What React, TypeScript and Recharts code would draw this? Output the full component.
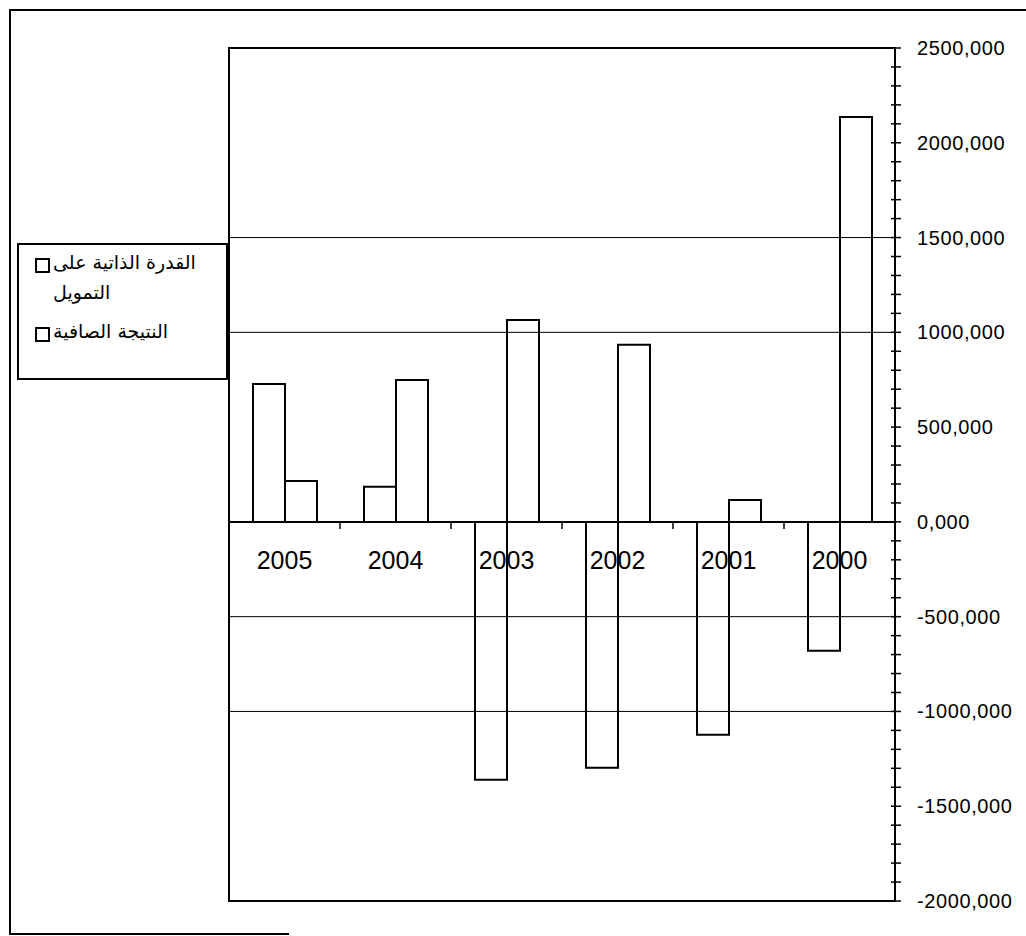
import { BarChart, Bar, XAxis, YAxis, ReferenceLine, ReferenceArea } from "recharts";

const years = ["2005", "2004", "2003", "2002", "2001", "2000"];
const selfFinancing = [728000, 185000, -1361000, -1297000, -1123000, -680000];
const netResult = [216000, 749000, 1065000, 934000, 116000, 2136000];
const seriesNames = ["القدرة الذاتية على التمويل", "النتيجة الصافية"];
const majorTicks = [-2000000, -1500000, -1000000, -500000, 0, 500000, 1000000, 1500000, 2000000, 2500000];
const gridValues = [1500000, 1000000, -500000, -1000000];

const data = years.map((year, i) => ({
  year,
  selfFinancing: selfFinancing[i],
  netResult: netResult[i],
}));

// minor ticks every 100,000 between the majors
const allTicks: number[] = [];
majorTicks.forEach((t, i) => {
  allTicks.push(t);
  if (i < majorTicks.length - 1) {
    for (let k = 1; k < 5; k++) allTicks.push(t + k * 100000);
  }
});

const fmt = (v: number) => `${v / 1000},000`;

const AxisTick = (props: any) => {
  const { x, y, payload } = props;
  const major = payload.value % 500000 === 0;
  return (
    <g>
      <line x1={x - 4} x2={x + 6} y1={y} y2={y} stroke="#000" strokeWidth={1.5} />
      {major && (
        <text x={x + 22} y={y} dy={7} textAnchor="start" fontSize={20} letterSpacing={0.6}
          fontFamily="Liberation Sans, Arial, sans-serif" fill="#000">
          {fmt(payload.value)}
        </text>
      )}
    </g>
  );
};

// category labels and ticks drawn along the zero line
const ZeroLineLabels = (props: any) => {
  const vb = props.viewBox || {};
  const x0 = vb.x;
  const y0 = vb.y;
  const step = vb.width / years.length;
  return (
    <g>
      {years.map((_, i) => (
        <line key={"t" + i} x1={x0 + i * step} x2={x0 + i * step} y1={y0} y2={y0 + 7} stroke="#000" strokeWidth={1.5} />
      ))}
      {years.map((yr, i) => (
        <text key={yr} x={x0 + (i + 0.5) * step} y={y0 + 47} textAnchor="middle" fontSize={25}
          fontFamily="Liberation Sans, Arial, sans-serif" fill="#000">
          {yr}
        </text>
      ))}
    </g>
  );
};

export default function App() {
  return (
    <div style={{ position: "absolute", left: 0, top: 0, width: 1026, height: 936, background: "#fff" }}>
      {/* outer frame */}
      <div style={{ position: "absolute", left: 9, top: 9, width: 1017, height: 0, borderTop: "2px solid #000" }} />
      <div style={{ position: "absolute", left: 9, top: 9, width: 0, height: 925, borderLeft: "2px solid #000" }} />
      <div style={{ position: "absolute", left: 9, top: 933, width: 280, height: 0, borderTop: "2px solid #000" }} />

      <div style={{ position: "absolute", left: 0, top: 0 }}>
        <BarChart width={1026} height={936} data={data} barGap={0}
          margin={{ top: 48, right: 11, left: 229, bottom: 35 }}>
          <XAxis dataKey="year" hide />
          <YAxis orientation="right" domain={[-2000000, 2500000]} ticks={allTicks} interval={0}
            allowDataOverflow width={120} tickSize={0} tickMargin={0} tickLine={false}
            axisLine={{ stroke: "#000", strokeWidth: 2 }} tick={<AxisTick />} />
          <ReferenceArea y1={-2000000} y2={2500000} fill="none" stroke="#000" strokeWidth={2} ifOverflow="visible" />
          {gridValues.map((g) => (
            <ReferenceLine key={g} y={g} stroke="#000" strokeWidth={1} />
          ))}
          <Bar dataKey="selfFinancing" name={seriesNames[0]} fill="#fff" stroke="#000" strokeWidth={2}
            barSize={32} isAnimationActive={false} />
          <Bar dataKey="netResult" name={seriesNames[1]} fill="#fff" stroke="#000" strokeWidth={2}
            barSize={32} isAnimationActive={false} />
          <ReferenceLine y={0} stroke="#000" strokeWidth={2} label={<ZeroLineLabels />} />
        </BarChart>
      </div>

      {/* legend */}
      <div style={{
        position: "absolute", left: 17, top: 243, width: 207, height: 133,
        border: "2px solid #000", background: "#fff",
        fontFamily: "DejaVu Sans, sans-serif", fontSize: 19, color: "#000",
      }}>
        {seriesNames.map((name, i) => (
          <div key={name} style={{ position: "absolute", left: 16, top: i === 0 ? 8 : 77, display: "flex", alignItems: "flex-start" }}>
            <div style={{ width: 11, height: 11, border: "2.5px solid #000", marginTop: 5, marginRight: 3, flex: "none" }} />
            <div style={{ direction: "rtl", textAlign: "left", width: 158, lineHeight: "30px", marginTop: -6 }}>{name}</div>
          </div>
        ))}
      </div>
    </div>
  );
}
